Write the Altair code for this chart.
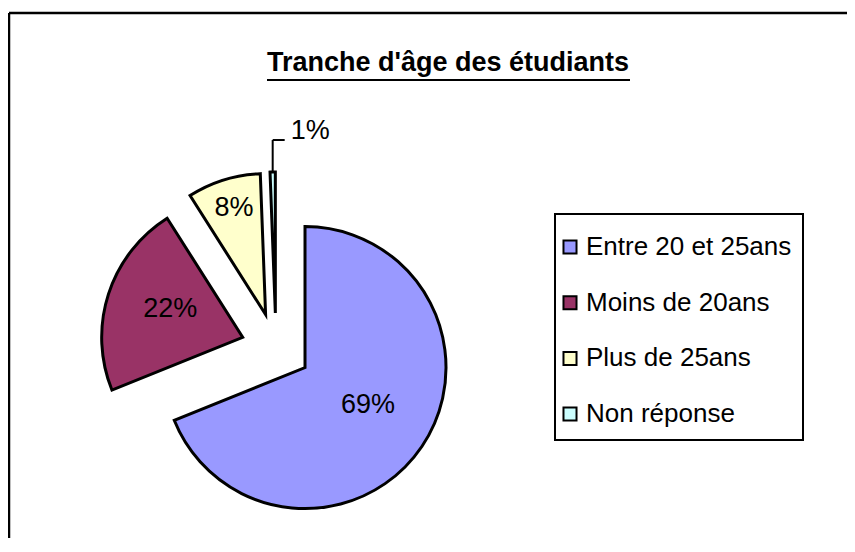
import altair as alt
import pandas as pd

# ---- data ----
categories = ["Entre 20 et 25ans", "Moins de 20ans", "Plus de 25ans", "Non réponse"]
values = [68.9, 22.1, 8.4, 0.6]          # percent shares
colors = ["#9999FF", "#993366", "#FFFFCC", "#CCFFFF"]
title_text = "Tranche d'âge des étudiants"

df = pd.DataFrame({
    "category": categories,
    "value": values,
    "order": list(range(len(categories))),
})

# ---- style / layout constants ----
FONT = "Liberation Sans"
CX, CY = 268, 340      # pie centre (px)
R = 141                # pie radius (px)
EXPLODE = 35           # explode distance (px)

base = (
    alt.Chart(df)
    .transform_joinaggregate(total="sum(value)")
    .transform_window(cum="sum(value)", sort=[alt.SortField("order")], frame=[None, 0])
    .transform_calculate(frac="datum.value / datum.total")
    .transform_calculate(a0="2*PI*(datum.cum - datum.value)/datum.total")
    .transform_calculate(a1="2*PI*datum.cum/datum.total")
    .transform_calculate(mid="(datum.a0 + datum.a1)/2")
    .transform_calculate(px=f"{CX} + {EXPLODE}*sin(datum.mid)")
    .transform_calculate(py=f"{CY} - {EXPLODE}*cos(datum.mid)")
    .transform_calculate(lr="datum.frac > 0.15 ? 76 : 106")
    .transform_calculate(lx="datum.px + datum.lr*sin(datum.mid)")
    .transform_calculate(ly="datum.py - datum.lr*cos(datum.mid) - 5")
    .transform_calculate(ox=f"datum.px + {R}*sin(datum.mid)")
    .transform_calculate(oy=f"datum.py - {R}*cos(datum.mid)")
    .transform_calculate(ly2="datum.oy - 32")
    .transform_calculate(ox2="datum.ox + 12")
    .transform_calculate(tx="datum.ox + 18")
    .transform_calculate(pct="format(datum.frac, '.0%')")
)

legend = alt.Legend(
    title=None,
    orient="none",
    legendX=549,
    legendY=226,
    padding=0,
    symbolType="square",
    symbolSize=170,
    symbolStrokeColor="black",
    symbolStrokeWidth=2,
    labelFont=FONT,
    labelFontSize=26,
    labelColor="black",
    labelLimit=0,
    labelOffset=3,
    rowPadding=29.7,
)

arcs = base.mark_arc(radius=R, stroke="black", strokeWidth=3, strokeJoin="miter").encode(
    x=alt.X("px:Q", scale=None, axis=None),
    y=alt.Y("py:Q", scale=None, axis=None),
    theta=alt.Theta("a0:Q", scale=None),
    theta2="a1:Q",
    color=alt.Color(
        "category:N",
        scale=alt.Scale(domain=categories, range=colors),
        sort=categories,
        legend=legend,
    ),
)

inner_labels = base.transform_filter("datum.frac >= 0.05").mark_text(
    font=FONT, fontSize=27, align="center", baseline="middle", color="black"
).encode(
    x=alt.X("lx:Q", scale=None, axis=None),
    y=alt.Y("ly:Q", scale=None, axis=None),
    text="pct:N",
)

small = base.transform_filter("datum.frac < 0.05")
leader_v = small.mark_rule(color="black", strokeWidth=2).encode(
    x=alt.X("ox:Q", scale=None, axis=None),
    y=alt.Y("oy:Q", scale=None, axis=None),
    y2="ly2:Q",
)
leader_h = small.mark_rule(color="black", strokeWidth=2).encode(
    x=alt.X("ox:Q", scale=None, axis=None),
    x2="ox2:Q",
    y=alt.Y("ly2:Q", scale=None, axis=None),
)
outer_label = small.mark_text(
    font=FONT, fontSize=27, align="left", baseline="alphabetic", dy=-1, color="black"
).encode(
    x=alt.X("tx:Q", scale=None, axis=None),
    y=alt.Y("ly2:Q", scale=None, axis=None),
    text="pct:N",
)

one = alt.Data(values=[{}])

title = alt.Chart(one).mark_text(
    text=title_text, font=FONT, fontSize=27, fontWeight="bold",
    align="center", baseline="alphabetic", color="black",
).encode(x=alt.value(440), y=alt.value(63))

underline = alt.Chart(one).mark_rule(color="black", strokeWidth=2).encode(
    x=alt.value(259), x2=alt.value(622), y=alt.value(72)
)

legend_box = alt.Chart(one).mark_rect(fill="white", stroke="black", strokeWidth=2).encode(
    x=alt.value(547), x2=alt.value(795), y=alt.value(206), y2=alt.value(432)
)

border_top = alt.Chart(one).mark_rule(color="black", strokeWidth=2.5).encode(
    x=alt.value(1), x2=alt.value(839), y=alt.value(5)
)
border_left = alt.Chart(one).mark_rule(color="black", strokeWidth=2.5).encode(
    x=alt.value(1), y=alt.value(5), y2=alt.value(530)
)

chart = (
    alt.layer(
        border_top, border_left, legend_box, title, underline,
        arcs, inner_labels, leader_v, leader_h, outer_label,
    )
    .properties(width=839, height=530, autosize="none", padding=0, background="white")
    .configure_view(stroke=None)
)

chart.save("out.html", embed_options={"renderer": "svg", "actions": False})
